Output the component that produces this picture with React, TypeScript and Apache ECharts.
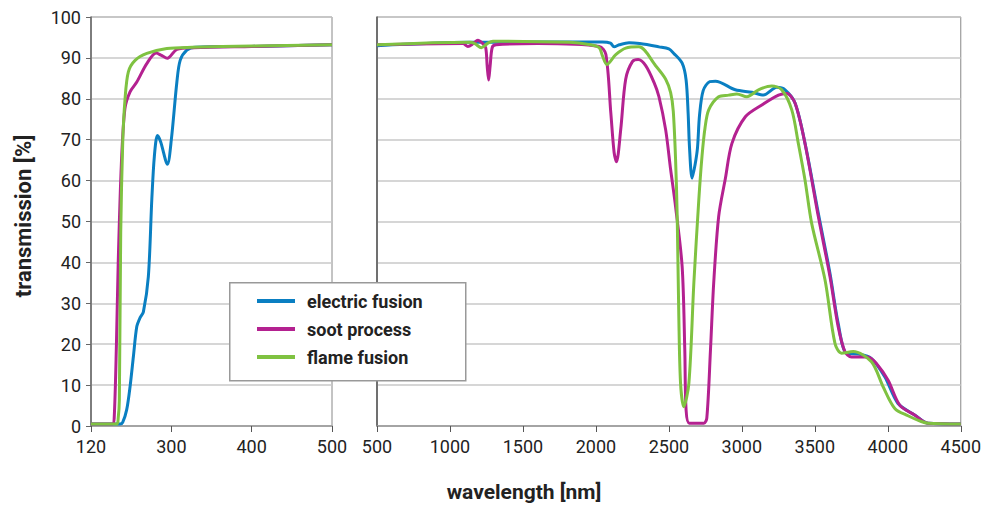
import React, { useEffect, useRef } from "react";
import * as echarts from "echarts";

// ---- data: [wavelength nm, transmission %] ----
const electricUV: [number, number][] = [
  [120, 0.5], [185, 0.5], [191, 0.9], [200, 4], [207.5, 9.6], [215, 17], [222.6, 24.3], [230, 26.5],
  [237.4, 27.9], [248.5, 36.5], [256.3, 55.5], [262, 66], [268.9, 71], [276, 69.5], [291.2, 64],
  [300, 70], [306.9, 84.1], [311, 89.4], [319.3, 91.9], [330, 92.6], [400, 92.8], [500, 93.2],
];
const sootUV: [number, number][] = [
  [120, 0.5], [168, 0.5], [172, 2], [177, 20], [181, 40], [188, 64], [196, 77.6], [207.5, 81.7],
  [222.6, 84.1], [245, 88.6], [266, 91.2], [278, 90.6], [291, 89.9], [307, 92.1], [328, 92.5],
  [400, 92.8], [500, 93.2],
];
const flameUV: [number, number][] = [
  [120, 0.5], [177.6, 0.5], [181, 2], [183.5, 6.3], [186.6, 47.3], [191.1, 69.4], [196.3, 80],
  [203.7, 86.6], [218.8, 89.4], [245.1, 91.1], [289.9, 92.3], [326, 92.6], [400, 92.9], [500, 93.2],
];

const electricIR: [number, number][] = [
  [500, 93.0], [1135, 93.8], [2045, 93.9], [2100, 93.6], [2125, 92.7], [2160, 93.2], [2227, 93.7],
  [2300, 93.5], [2432, 92.7], [2500, 92.2], [2534, 91.1], [2591, 88.7], [2618, 84.6], [2632, 76.4],
  [2641, 68.3], [2659, 60.6], [2680, 64], [2696, 68], [2710, 76], [2735, 82], [2780, 84.2],
  [2819, 84.3], [2955, 82.2], [3069, 81.6], [3148, 80.9], [3239, 82.8], [3296, 82.2], [3365, 78.9],
  [3433, 69.1], [3524, 52], [3604, 37.3], [3660, 25.1], [3717, 17.8], [3797, 17.6], [3888, 16.5],
  [3980, 12], [4070, 5.5], [4184, 2.7], [4275, 0.7], [4500, 0.5],
];
const sootIR: [number, number][] = [
  [500, 93.2], [1089, 93.5], [1123, 92.8], [1160, 93.5], [1191, 94.3], [1225, 93.5], [1245, 92.5],
  [1255, 88], [1265, 84.6], [1275, 88], [1290, 92.6], [1317, 93.2], [1600, 93.5], [2022, 92.8],
  [2068, 90.9], [2102, 76.6], [2125, 66.8], [2141, 64.6], [2170, 72.5], [2204, 84.8], [2250, 89.1],
  [2290, 89.6], [2341, 88.1], [2398, 84], [2432, 80.5], [2478, 72.4], [2512, 62.7], [2546, 53.6],
  [2591, 38.9], [2609, 18.6], [2618, 3.9], [2640, 0.7], [2740, 0.7], [2760, 2], [2785, 18.6],
  [2807, 34.9], [2841, 51.2], [2887, 60.5], [2932, 69.1], [3024, 75.6], [3137, 78.5], [3251, 80.9],
  [3308, 81.3], [3365, 78.9], [3433, 69], [3524, 51.2], [3604, 36.5], [3660, 24.3], [3706, 18.2],
  [3751, 16.9], [3865, 16.9], [3922, 15.3], [4002, 11.2], [4082, 5.1], [4184, 2.7], [4275, 0.7],
  [4500, 0.5],
];
const flameIR: [number, number][] = [
  [500, 93.2], [1135, 93.8], [1170, 93.5], [1215, 92.5], [1260, 93.6], [1294, 94.1], [1817, 93.8],
  [1950, 93.3], [2022, 92.5], [2045, 90.5], [2075, 88.4], [2136, 90.8], [2204, 92.4], [2295, 92.7],
  [2409, 88.1], [2478, 84.8], [2512, 81.5], [2530, 77], [2546, 65], [2557, 51.2], [2568, 26.8],
  [2580, 10.4], [2602, 4.7], [2637, 10.4], [2671, 34.9], [2705, 55.3], [2727, 66], [2748, 73],
  [2773, 77.3], [2841, 80.5], [2910, 80.9], [2966, 81.2], [3034, 80.5], [3114, 82.2], [3205, 83.1],
  [3273, 82.2], [3342, 77.3], [3387, 69.1], [3433, 60.1], [3478, 49.6], [3570, 35.7], [3638, 20.2],
  [3683, 17.8], [3763, 18.2], [3888, 15.7], [3968, 9.6], [4048, 4.3], [4138, 2.5], [4229, 1.1],
  [4275, 0.7], [4500, 0.5],
];

const seriesNames = ["electric fusion", "soot process", "flame fusion"];
const seriesColors = ["#0a7fc2", "#b42190", "#7fc241"];
const uvTickLabels = ["120", "300", "400", "500"];
const yTitle = "transmission [%]";
const xTitle = "wavelength [nm]";

// left panel: 120..300 nm squeezed into one tick interval (as in the original figure)
const uvScale = (nm: number) => (nm < 300 ? 200 + ((nm - 120) / 180) * 100 : nm);

const FONT = "Roboto, 'Liberation Sans', sans-serif";

export default function App() {
  const ref = useRef<HTMLDivElement>(null);
  useEffect(() => {
    if (!ref.current) return;
    const chart = echarts.init(ref.current, undefined, { renderer: "svg" });
    const uvSets = [electricUV, sootUV, flameUV];
    const irSets = [electricIR, sootIR, flameIR];
    const lineSeries: any[] = [];
    const mk = (name: string, color: string, idx: number, data: number[][]) => ({
      type: "line",
      name,
      xAxisIndex: idx,
      yAxisIndex: idx,
      data,
      showSymbol: false,
      smooth: 0.3,
      lineStyle: { width: 3, color },
      itemStyle: { color },
      clip: true,
    });
    uvSets.forEach((d, i) => lineSeries.push(mk(seriesNames[i], seriesColors[i], 0, d.map(([x, y]) => [uvScale(x), y]))));
    irSets.forEach((d, i) => lineSeries.push(mk(seriesNames[i], seriesColors[i], 1, d)));
    const axisLabel = { fontFamily: FONT, fontSize: 18, color: "#222" };
    chart.setOption({
      animation: false,
      backgroundColor: "#fff",
      grid: [
        { left: 91, top: 17, width: 241, height: 409, show: true, borderColor: "#888", borderWidth: 1 },
        { left: 377, top: 17, width: 586, height: 409, show: true, borderColor: "#888", borderWidth: 1 },
      ],
      xAxis: [
        {
          type: "value", gridIndex: 0, min: 200, max: 500, interval: 100,
          axisLine: { show: true, lineStyle: { color: "#999", width: 1.5 } },
          axisTick: { show: true, length: 6, lineStyle: { color: "#555" } },
          splitLine: { show: false },
          axisLabel: {
            ...axisLabel, margin: 11,
            formatter: (v: number) => uvTickLabels[Math.round((v - 200) / 100)] ?? String(v),
          },
        },
        {
          type: "value", gridIndex: 1, min: 500, max: 4500, interval: 500,
          axisLine: { show: true, lineStyle: { color: "#999", width: 1.5 } },
          axisTick: { show: true, length: 6, lineStyle: { color: "#555" } },
          splitLine: { show: false },
          axisLabel: { ...axisLabel, margin: 11, formatter: (v: number) => String(v) },
        },
      ],
      yAxis: [
        {
          type: "value", gridIndex: 0, min: 0, max: 100, interval: 10,
          axisLine: { show: true, lineStyle: { color: "#666", width: 1.5 } },
          axisTick: { show: true, length: 5, lineStyle: { color: "#666" } },
          splitLine: { show: true, lineStyle: { color: "#c8c8c8", width: 1.5 } },
          axisLabel: { ...axisLabel, margin: 10 },
        },
        {
          type: "value", gridIndex: 1, min: 0, max: 100, interval: 10,
          axisLine: { show: true, lineStyle: { color: "#555", width: 1.5 } },
          axisTick: { show: false },
          splitLine: { show: true, lineStyle: { color: "#c8c8c8", width: 1.5 } },
          axisLabel: { show: false },
        },
      ],
      legend: {
        data: seriesNames,
        orient: "vertical",
        left: 257,
        top: 292,
        itemWidth: 38,
        itemHeight: 4,
        itemGap: 10,
        padding: 0,
        icon: "rect",
        textStyle: { fontFamily: FONT, fontSize: 18, fontWeight: "bold", color: "#222", padding: [0, 0, 0, 7], lineHeight: 18 },
        z: 10,
      },
      graphic: [
        {
          type: "rect", left: 229, top: 282, z: 5,
          shape: { width: 236, height: 98 },
          style: { fill: "#fff", stroke: "#999", lineWidth: 1.5 },
        },
        {
          type: "text", x: 23, y: 216, rotation: Math.PI / 2, z: 5,
          style: { text: yTitle, fontFamily: FONT, fontSize: 22, fontWeight: "bold", fill: "#222", align: "center", verticalAlign: "middle" },
        },
        {
          type: "text", x: 524, y: 492, z: 5,
          style: { text: xTitle, fontFamily: FONT, fontSize: 21, fontWeight: "bold", fill: "#222", align: "center", verticalAlign: "middle" },
        },
      ],
      series: lineSeries,
    });
    return () => chart.dispose();
  }, []);
  return <div ref={ref} style={{ position: "fixed", left: 0, top: 0, width: 984, height: 505 }} />;
}
